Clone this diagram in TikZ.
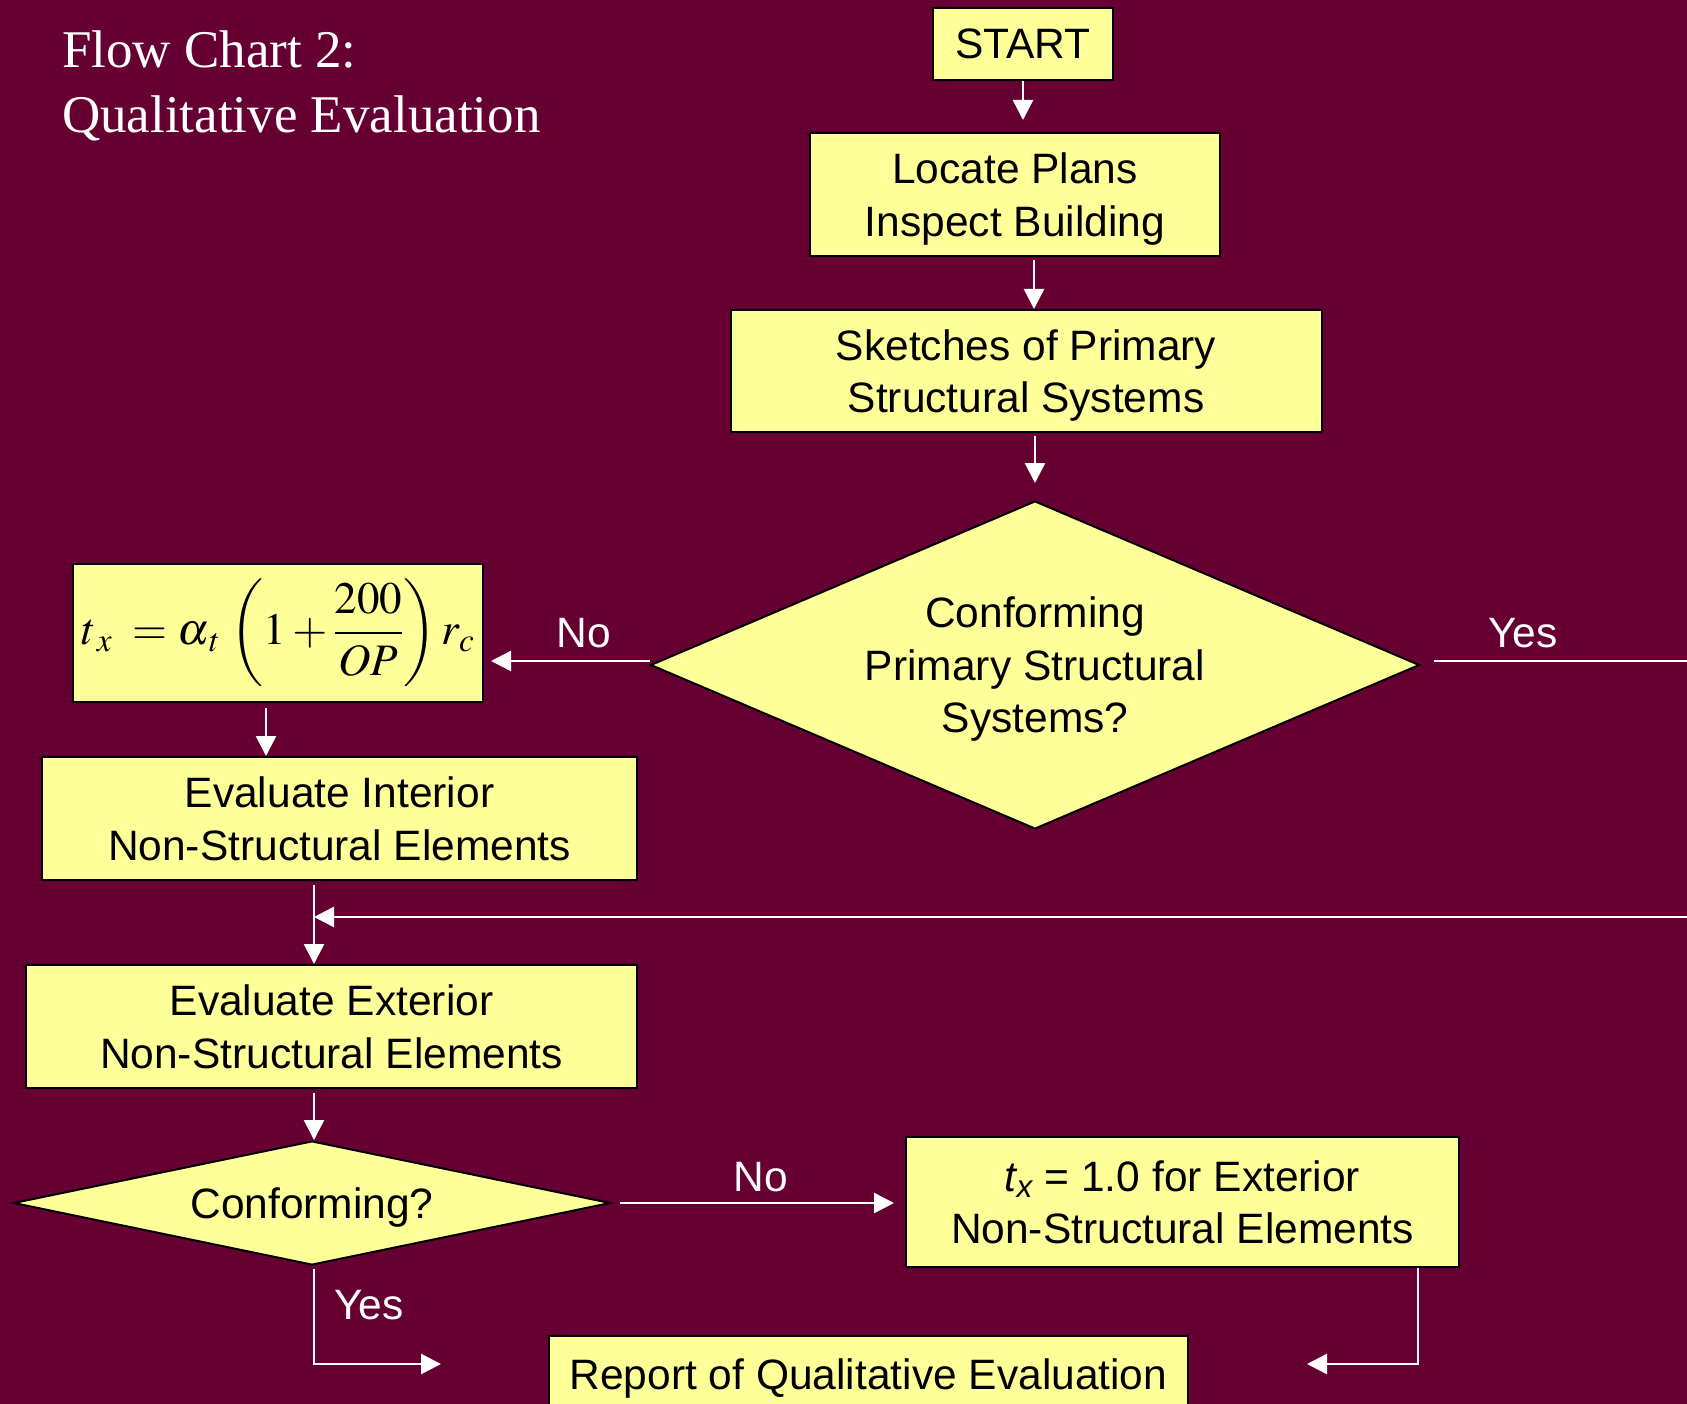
\documentclass[tikz,border=0pt]{standalone}
\usepackage{mathptmx}
\usepackage{fontspec}
\usetikzlibrary{shapes.geometric,arrows.meta}
\newfontfamily\arialf{Liberation Sans}
\newfontfamily\timesf{Liberation Serif}
\definecolor{bgc}{HTML}{660033}
\definecolor{boxy}{HTML}{FFFF99}
\newcommand\bodyfont{\arialf\fontsize{42.5}{52.5}\selectfont}
\begin{document}
\begin{tikzpicture}[x=1pt,y=-1pt,
  box/.style={draw=black,line width=2pt,fill=boxy,inner sep=0pt,align=center,font=\bodyfont},
  tbox/.style={box,text depth=0pt},
  dia/.style={diamond,draw=black,line width=2pt,fill=boxy,inner sep=0pt,align=center,font=\bodyfont,text depth=0pt},
  arr/.style={draw=white,line width=2.5pt,-{Triangle[width=20pt,length=20pt]}},
  lbl/.style={text=white,font=\bodyfont,inner sep=0pt}]
\fill[bgc] (0,0) rectangle (1687,1404);
\useasboundingbox (0,0) rectangle (1687,1404);
\begin{scope}
\clip (0,0) rectangle (1687,1404);
\node[anchor=west,text=white,align=left,inner sep=0pt,font=\timesf\fontsize{53}{65}\selectfont] (title) at (62,85.5) {Flow Chart 2:\\Qualitative Evaluation};

\node[box,minimum width=180pt,minimum height=72pt] (start) at (1023,44) {START};
\node[tbox,minimum width=410pt,minimum height=123pt] (locate) at (1015,194.5) {Locate Plans\\Inspect Building};
\node[tbox,minimum width=591pt,minimum height=122pt] (sketch) at (1026,371) {Sketches of Primary\\Structural Systems};
\node[dia,aspect=2.345,minimum width=769pt,minimum height=328pt] (d1) at (1035,665) {Conforming\\Primary Structural\\Systems?};
\node[box,minimum width=410pt,minimum height=138pt,font=\fontsize{45}{54}\selectfont] (formula) at (278,633) {$\displaystyle t_{\,x}\;=\alpha_{\,t}\,\left(1+\frac{200}{OP}\right)r_{c}$};
\node[tbox,minimum width=595pt,minimum height=123pt] (inter) at (339.5,818.5) {Evaluate Interior\\Non-Structural Elements};
\node[tbox,minimum width=611pt,minimum height=123pt] (ext) at (331.5,1026.5) {Evaluate Exterior\\Non-Structural Elements};
\node[dia,aspect=4.81,minimum width=597pt,minimum height=124pt] (d2) at (312,1203) {Conforming?};
\node[tbox,minimum width=553pt,minimum height=130pt] (tx) at (1182.5,1202) {{\itshape t\textsubscript{x}} = 1.0 for Exterior\\Non-Structural Elements};
\node[tbox,minimum width=639pt,minimum height=76pt] (report) at (868.5,1374) {Report of Qualitative Evaluation};

\coordinate (mx) at (314,917);
\coordinate (yesR) at (1720,661);
\coordinate (ybend) at (314,1364);
\coordinate (yend) at (441,1364);
\coordinate (nbend) at (1418,1364);
\coordinate (nend) at (1307,1364);

\draw[arr,shorten >=12pt] (start.south) -- (start.south |- locate.north);
\draw[arr,shorten <=3pt] ([xshift=19pt]locate.south) -- ([xshift=19pt]locate.south |- sketch.north);
\draw[arr,shorten <=3pt,shorten >=17pt] (sketch.south -| d1.north) -- (d1.north);
\draw[arr,shorten >=7pt] ([yshift=4pt]d1.west) -- ([yshift=4pt]d1.west -| formula.east);
\draw[arr,shorten <=5pt] ([xshift=-12pt]formula.south) -- ([xshift=-12pt]formula.south |- inter.north);
\draw[arr,shorten <=4pt] (inter.south -| mx) -- (ext.north -| mx);
\draw[arr,shorten <=13pt] ([yshift=4pt]d1.east) -- (yesR) |- (mx);
\draw[arr,shorten <=4pt] (ext.south -| mx) -- (d2.north -| mx);
\draw[arr,shorten <=8pt,shorten >=11pt] (d2.east) -- (d2.east -| tx.west);
\draw[arr,shorten <=3pt] (d2.south -| ybend) -- (ybend) -- (yend);
\draw[arr] (tx.south -| nbend) -- (nbend) -- (nend);

\node[lbl] (no1) at (584,633) {No};
\node[lbl] (yes1) at (1523,633) {Yes};
\node[lbl] (no2) at (761,1177) {No};
\node[lbl] (yes2) at (369,1305) {Yes};
\end{scope}
\end{tikzpicture}
\end{document}
